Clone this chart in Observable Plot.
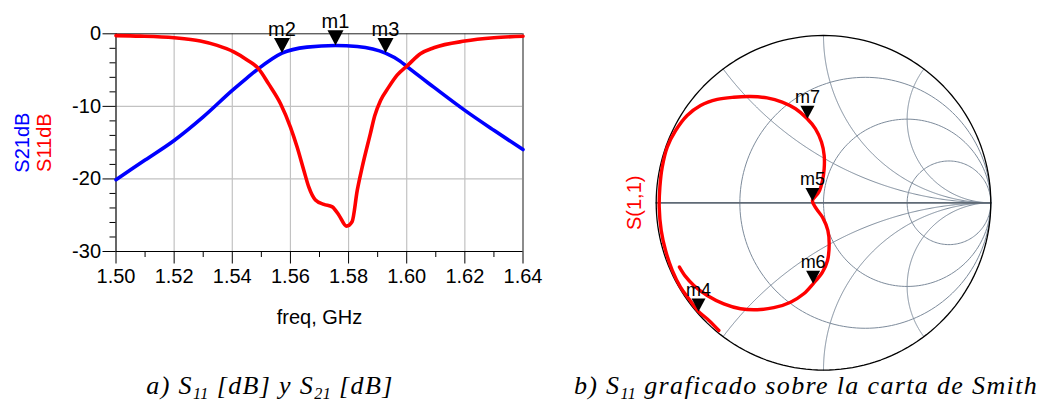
<!DOCTYPE html>
<html><head><meta charset="utf-8">
<script src="https://cdn.jsdelivr.net/npm/d3@7"></script>
<script src="https://cdn.jsdelivr.net/npm/@observablehq/plot@0.6"></script>
<style>
html,body{margin:0;padding:0;background:#fff;}
#wrap{position:relative;width:1044px;height:408px;overflow:hidden;background:#fff;}
#left{position:absolute;left:0;top:0;}
#smith{position:absolute;left:600px;top:0;}
.cap{position:absolute;font-family:"Liberation Serif","Times New Roman",serif;font-style:italic;font-size:26px;letter-spacing:1.35px;white-space:nowrap;line-height:1;color:#000;transform:translateX(-50%);}
.cap .sb{font-size:62%;position:relative;top:0.3em;letter-spacing:0.5px;}
</style></head>
<body>
<div id="wrap">
  <div id="left"></div>
  <div id="smith"></div>
  <div class="cap" style="left:270px;top:373px;">a) S<span class="sb">11</span> [dB] y S<span class="sb">21</span> [dB]</div>
  <div class="cap" style="left:806px;top:373px;">b) S<span class="sb">11</span> graficado sobre la carta de Smith</div>
</div>
<script>
// ---------- Panel a) data ----------
const s21Freq = [1.500, 1.510, 1.520, 1.530, 1.540, 1.545, 1.549, 1.5571, 1.5657, 1.5755, 1.583, 1.5927, 1.5977, 1.600, 1.6093, 1.620, 1.630, 1.640];
const s21dB   = [-20.1, -17.4, -14.7, -11.45, -7.8, -6.1, -4.8, -2.66, -1.84, -1.61, -1.75, -2.66, -3.76, -4.5, -7.35, -10.55, -13.3, -15.96];

const s11Freq = [1.500, 1.5084, 1.520, 1.529, 1.5348, 1.5405, 1.5451, 1.549, 1.5525, 1.5566, 1.560, 1.5623, 1.5646, 1.5663, 1.5686, 1.5715, 1.5744, 1.5767, 1.5793, 1.5812, 1.583, 1.5847, 1.5875, 1.589, 1.591, 1.5938, 1.5967, 1.6002, 1.6047, 1.6093, 1.620, 1.630, 1.640];
const s11dB   = [-0.25, -0.32, -0.55, -1.0, -1.6, -2.5, -3.6, -4.8, -6.9, -9.63, -12.85, -15.6, -18.8, -21.1, -22.9, -23.5, -23.85, -25.0, -26.5, -25.9, -21.55, -18.35, -13.75, -11.3, -9.2, -7.35, -5.7, -4.4, -2.75, -1.93, -1.0, -0.55, -0.33];

const xTicks = [1.50, 1.52, 1.54, 1.56, 1.58, 1.60, 1.62, 1.64];
const xMinorTicks = [1.51, 1.53, 1.55, 1.57, 1.59, 1.61, 1.63];
const yTicks = [0, -10, -20, -30];
const yMinorTicks = [-2, -4, -6, -8, -12, -14, -16, -18, -22, -24, -26, -28];

const markerNames = ["m1", "m2", "m3"];
const markerFreq  = [1.5755, 1.5571, 1.5927];
const markerDb    = [-1.61, -2.66, -2.66];

// ---------- Panel b) data ----------
const smithResistances = [1/3, 1, 3];
const smithReactances  = [0.5, 1, 2, -0.5, -1, -2];
const gammaRe = [-0.6255, -0.685, -0.749, -0.805, -0.855, -0.904, -0.944, -0.970, -0.982, -0.978, -0.964, -0.934, -0.884, -0.815, -0.735, -0.635, -0.536, -0.436, -0.337, -0.247, -0.167, -0.100, -0.048, -0.012, 0.004, 0.004, -0.006, -0.028, -0.066, -0.042, -0.004, 0.026, 0.034, 0.024, -0.006, -0.062, -0.118, -0.197, -0.297, -0.396, -0.496, -0.596, -0.695, -0.775, -0.825, -0.861];
const gammaIm = [-0.763, -0.703, -0.647, -0.574, -0.504, -0.404, -0.285, -0.165, -0.026, 0.094, 0.213, 0.333, 0.432, 0.522, 0.582, 0.618, 0.631, 0.635, 0.627, 0.602, 0.562, 0.505, 0.442, 0.363, 0.283, 0.203, 0.133, 0.064, 0.012, -0.036, -0.090, -0.165, -0.245, -0.345, -0.414, -0.484, -0.544, -0.594, -0.627, -0.639, -0.633, -0.604, -0.554, -0.494, -0.440, -0.384];
const smithMarkerNames = ["m4", "m5", "m6", "m7"];
const smithMarkerRe = [-0.747, -0.066, -0.062, -0.096];
const smithMarkerIm = [-0.650, 0.011, -0.484, 0.503];

// ---------- helpers ----------
function downTriangle(ratio) {
  return {
    draw(context, size) {
      const w = Math.sqrt(size / Math.PI);
      const h = w * ratio;
      context.moveTo(0, 0);
      context.lineTo(-w, -h);
      context.lineTo(w, -h);
      context.closePath();
    }
  };
}
const FONT = "'Liberation Sans', Arial, Helvetica, sans-serif";

// ---------- Panel a) ----------
const s21 = s21Freq.map((f, i) => ({f, v: s21dB[i]}));
const s11 = s11Freq.map((f, i) => ({f, v: s11dB[i]}));
const markers = markerNames.map((name, i) => ({name, f: markerFreq[i], v: markerDb[i]}));

const leftPlot = Plot.plot({
  width: 545, height: 340,
  marginLeft: 115.5, marginRight: 22.5, marginTop: 33.3, marginBottom: 89,
  style: {fontFamily: FONT, fontSize: "20px", background: "white", overflow: "visible", color: "black"},
  x: {domain: [1.5, 1.64], label: null},
  y: {domain: [-30, 0], label: null},
  marks: [
    Plot.gridX(xTicks.slice(1, -1), {stroke: "#c2c2c2", strokeOpacity: 1, strokeWidth: 1.2}),
    Plot.gridY(yTicks.slice(1, -1), {stroke: "#c2c2c2", strokeOpacity: 1, strokeWidth: 1.2}),
    Plot.ruleX([1.64], {stroke: "#8c8c8c", strokeWidth: 2}),
    Plot.ruleY([0], {stroke: "#222", strokeWidth: 1}),
    Plot.axisX(xTicks, {tickSize: 12.5, tickPadding: 5, tickFormat: d => d.toFixed(2), label: null, fontSize: 20, fill: "black"}),
    Plot.axisX(xMinorTicks, {tickSize: 6, tickFormat: () => "", label: null}),
    Plot.axisY(yTicks, {tickSize: 13, tickPadding: 2, tickFormat: d => String(d), label: null, fontSize: 20, fill: "black"}),
    Plot.axisY(yMinorTicks, {tickSize: 6, tickFormat: () => "", label: null}),
    Plot.ruleX([1.5], {stroke: "black", strokeWidth: 1.2}),
    Plot.ruleY([-30], {stroke: "black", strokeWidth: 1.2}),
    Plot.line(s21, {x: "f", y: "v", stroke: "#0000ff", strokeWidth: 3.6, curve: "monotone-x"}),
    Plot.line(s11, {x: "f", y: "v", stroke: "#ff0000", strokeWidth: 3.6, curve: "monotone-x"}),
    Plot.dot(markers, {x: "f", y: "v", symbol: downTriangle(1.9), r: 8, fill: "black", stroke: null}),
    Plot.text(markers, {x: "f", y: "v", text: "name", dy: -17, lineAnchor: "bottom", fontSize: 20, fill: "black"}),
    Plot.text(["S21dB"], {text: d => d, frameAnchor: "left", dx: -87.5, rotate: -90, lineAnchor: "bottom", textAnchor: "middle", fill: "#0000ff", fontSize: 20}),
    Plot.text(["S11dB"], {text: d => d, frameAnchor: "left", dx: -65.5, rotate: -90, lineAnchor: "bottom", textAnchor: "middle", fill: "#ff0000", fontSize: 20}),
    Plot.text(["freq, GHz"], {text: d => d, frameAnchor: "bottom", dy: 66, lineAnchor: "middle", fontSize: 20, fill: "black"})
  ]
});
document.getElementById("left").append(leftPlot);

// ---------- Panel b) Smith chart ----------
function resistanceCircle(r, id) {
  const c = r / (1 + r), R = 1 / (1 + r);
  return d3.range(0, 361, 2).map(a => ({u: c + R * Math.cos(a * Math.PI / 180), v: R * Math.sin(a * Math.PI / 180), id}));
}
function reactanceArc(x, id) {
  return d3.range(0, 301).map(i => {
    const t = i / 300;
    if (t === 1) return {u: 1, v: 0, id};
    const r = t / (1 - t);
    const den = (r + 1) * (r + 1) + x * x;
    return {u: (r * r - 1 + x * x) / den, v: 2 * x / den, id};
  });
}
const gridLines = [
  ...smithResistances.flatMap((r, i) => resistanceCircle(r, "r" + i)),
  ...smithReactances.flatMap((x, i) => reactanceArc(x, "x" + i))
];
const realAxis = reactanceArc(0, "axis");
const outerCircle = resistanceCircle(0, "outer");
const trace = gammaRe.map((u, i) => ({u, v: gammaIm[i]}));
const smithMarkers = smithMarkerNames.map((name, i) => ({name, u: smithMarkerRe[i], v: smithMarkerIm[i]}));

const smithPlot = Plot.plot({
  width: 444, height: 380,
  marginLeft: 55.7, marginRight: 53.7, marginTop: 35, marginBottom: 10.4,
  style: {fontFamily: FONT, fontSize: "18px", background: "white", overflow: "visible", color: "black"},
  x: {domain: [-1, 1], axis: null},
  y: {domain: [-1, 1], axis: null},
  marks: [
    Plot.line(gridLines, {x: "u", y: "v", z: "id", stroke: "#7d8b9b", strokeWidth: 1, curve: "linear"}),
    Plot.line(realAxis, {x: "u", y: "v", stroke: "#5f6a76", strokeWidth: 1.8}),
    Plot.line(outerCircle, {x: "u", y: "v", stroke: "black", strokeWidth: 1.3}),
    Plot.line(trace, {x: "u", y: "v", stroke: "#ff0000", strokeWidth: 3.4, curve: "catmull-rom"}),
    Plot.dot(smithMarkers, {x: "u", y: "v", symbol: downTriangle(1.85), r: 7, fill: "black", stroke: null}),
    Plot.text(smithMarkers, {x: "u", y: "v", text: "name", dy: -16, lineAnchor: "bottom", fontSize: 18, fill: "black"}),
    Plot.text(["S(1,1)"], {text: d => d, frameAnchor: "left", dx: -15.7, rotate: -90, lineAnchor: "bottom", textAnchor: "middle", fill: "#ff0000", fontSize: 20})
  ]
});
document.getElementById("smith").append(smithPlot);
</script>
</body></html>
